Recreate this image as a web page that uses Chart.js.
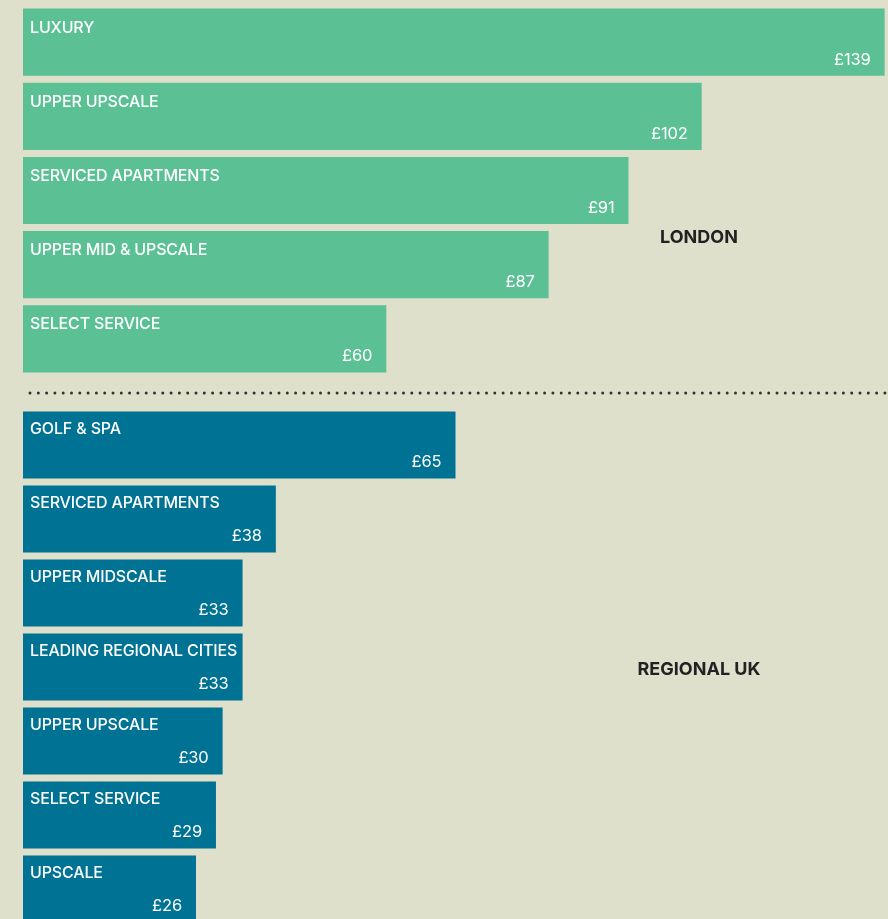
<!DOCTYPE html>
<html>
<head>
<meta charset="utf-8">
<script src="https://cdn.jsdelivr.net/npm/chart.js@4"></script>
<style>
  html, body { margin: 0; padding: 0; background: #dfe0cc; width: 888px; height: 919px; overflow: hidden; }
  #wrapA { position: absolute; left: 0; top: 0; width: 888px; height: 405px; }
  #wrapB { position: absolute; left: 0; top: 405px; width: 888px; height: 521px; }
</style>
</head>
<body>
<div id="wrapA"><canvas id="london" width="888" height="405"></canvas></div>
<div id="wrapB"><canvas id="regional" width="888" height="521"></canvas></div>
<script>
// ---- Data ----
const londonCategories = ["LUXURY", "UPPER UPSCALE", "SERVICED APARTMENTS", "UPPER MID & UPSCALE", "SELECT SERVICE"];
const londonBarLengths = [129.5, 102, 91, 79, 54.6];
const londonValueLabels = ["£139", "£102", "£91", "£87", "£60"];

const regionalCategories = ["GOLF & SPA", "SERVICED APARTMENTS", "UPPER MIDSCALE", "LEADING REGIONAL CITIES", "UPPER UPSCALE", "SELECT SERVICE", "UPSCALE"];
const regionalBarLengths = [65, 38, 33, 33, 30, 29, 26];
const regionalValueLabels = ["£65", "£38", "£33", "£33", "£30", "£29", "£26"];

const sectionTitles = ["LONDON", "REGIONAL UK"];

const FONT = "Inter, 'Liberation Sans', Arial, sans-serif";

function barLabelPlugin(categories, valueLabels, title, titleY, labelOffset, drawDots) {
  return {
    id: 'barLabels',
    afterDatasetsDraw(chart) {
      const ctx = chart.ctx;
      const meta = chart.getDatasetMeta(0);
      ctx.save();
      meta.data.forEach((bar, i) => {
        const top = bar.y - bar.height / 2;
        const bottom = bar.y + bar.height / 2;
        ctx.fillStyle = '#ffffff';
        ctx.textBaseline = 'alphabetic';
        ctx.letterSpacing = '-0.15px';
        ctx.font = "500 16px " + FONT;
        ctx.textAlign = 'left';
        ctx.fillText(categories[i], bar.base + 7, top + labelOffset);
        ctx.font = "400 16.5px " + FONT;
        ctx.textAlign = 'right';
        ctx.fillText(valueLabels[i], bar.x - 14, bottom - 11);
      });
      ctx.letterSpacing = '0px';
      ctx.fillStyle = '#222222';
      ctx.font = "bold 18px " + FONT;
      ctx.textAlign = 'center';
      ctx.fillText(title, 699, titleY);
      if (drawDots) {
        ctx.strokeStyle = '#333333';
        ctx.lineWidth = 3;
        ctx.lineCap = 'round';
        ctx.setLineDash([0, 8.3]);
        ctx.beginPath();
        ctx.moveTo(30, 393);
        ctx.lineTo(888, 393);
        ctx.stroke();
      }
      ctx.restore();
    }
  };
}

function makeChart(id, categories, values, valueLabels, color, padTop, padBottom, title, titleY, labelOffset, drawDots) {
  return new Chart(document.getElementById(id), {
    type: 'bar',
    data: {
      labels: categories,
      datasets: [{
        data: values,
        backgroundColor: color,
        borderWidth: 0,
        barPercentage: 0.905,
        categoryPercentage: 1
      }]
    },
    options: {
      indexAxis: 'y',
      responsive: false,
      animation: false,
      devicePixelRatio: 1,
      layout: { padding: { left: 23, right: 0, top: padTop, bottom: padBottom } },
      scales: {
        x: { display: false, min: 0, max: 130 },
        y: { display: false }
      },
      plugins: { legend: { display: false }, tooltip: { enabled: false } }
    },
    plugins: [barLabelPlugin(categories, valueLabels, title, titleY, labelOffset, drawDots)]
  });
}

makeChart('london', londonCategories, londonBarLengths, londonValueLabels, '#5cc095', 5, 29, sectionTitles[0], 243, 24, true);
makeChart('regional', regionalCategories, regionalBarLengths, regionalValueLabels, '#007294', 3, 0, sectionTitles[1], 270, 22, false);
</script>
</body>
</html>
